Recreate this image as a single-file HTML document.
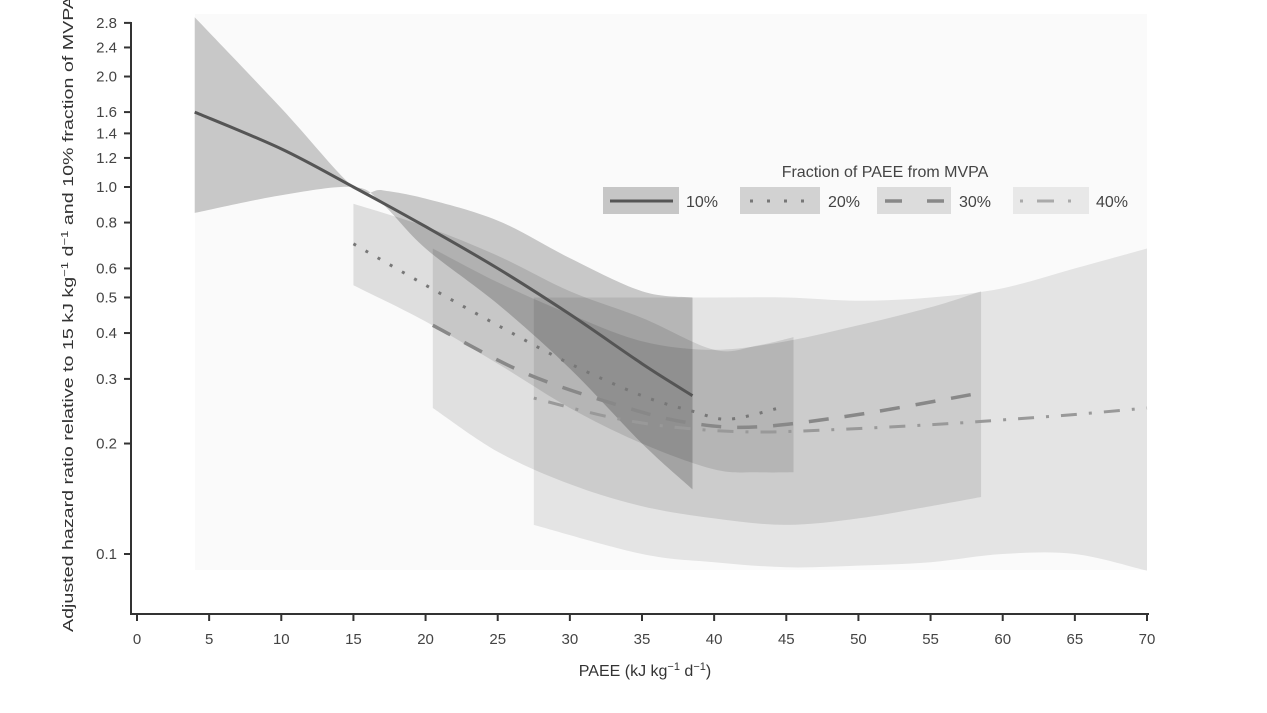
<!DOCTYPE html>
<html><head><meta charset="utf-8"><style>
body{margin:0;background:#fff;}
svg{display:block;font-family:"Liberation Sans",Arial,sans-serif;}
</style></head><body>
<svg id="chart" width="1267" height="713" viewBox="0 0 1267 713" xmlns="http://www.w3.org/2000/svg">
<rect x="195" y="14" width="952" height="556" fill="#fafafa"/>
<g id="bands"></g>
<g id="lines"></g>
<g id="axes"></g>
<text transform="translate(73,632) rotate(-90)" text-anchor="start" font-size="15" fill="#333" textLength="636" lengthAdjust="spacingAndGlyphs">Adjusted hazard ratio relative to 15 kJ kg<tspan dy="-5" font-size="10">−1</tspan><tspan dy="5"> d</tspan><tspan dy="-5" font-size="10">−1</tspan><tspan dy="5"> and 10% fraction of MVPA</tspan></text>
<text x="645" y="676" text-anchor="middle" font-size="16" fill="#333">PAEE (kJ kg<tspan dy="-6" font-size="11">−1</tspan><tspan dy="6"> d</tspan><tspan dy="-6" font-size="11">−1</tspan><tspan dy="6">)</tspan></text>
<g>
<text x="885" y="177" text-anchor="middle" font-size="16" fill="#444">Fraction of PAEE from MVPA</text>
<g><rect x="603" y="187" width="76" height="27" fill="#c6c6c6"/><line x1="610" y1="201" x2="673" y2="201" stroke="#555" stroke-width="3"/><text x="686" y="207" font-size="16" fill="#444">10%</text></g>
<g><rect x="740" y="187" width="80" height="27" fill="#d2d2d2"/><line x1="750" y1="201" x2="815" y2="201" stroke="#777" stroke-width="3" stroke-dasharray="3,14"/><text x="828" y="207" font-size="16" fill="#444">20%</text></g>
<g><rect x="877" y="187" width="74" height="27" fill="#dcdcdc"/><line x1="885" y1="201" x2="945" y2="201" stroke="#888" stroke-width="3.5" stroke-dasharray="17,25"/><text x="959" y="207" font-size="16" fill="#444">30%</text></g>
<g><rect x="1013" y="187" width="76" height="27" fill="#e8e8e8"/><line x1="1020" y1="201" x2="1085" y2="201" stroke="#aaa" stroke-width="3" stroke-dasharray="3,14,17,14"/><text x="1096" y="207" font-size="16" fill="#444">40%</text></g>
</g>
</svg>
<script>
const xTicks=[0,5,10,15,20,25,30,35,40,45,50,55,60,65,70];
const yTicks=[0.1,0.2,0.3,0.4,0.5,0.6,0.8,1.0,1.2,1.4,1.6,2.0,2.4,2.8];
const yTickLabels=["0.1","0.2","0.3","0.4","0.5","0.6","0.8","1.0","1.2","1.4","1.6","2.0","2.4","2.8"];
// series 10%
const s10x=[4,10,15,20,25,30,35,38.5];
const s10y=[1.6,1.27,1.0,0.78,0.6,0.45,0.33,0.27];
const b10x=[4,10,15,17,20,25,30,35,38.5];
const b10up=[2.9,1.64,1.0,0.98,0.93,0.81,0.64,0.52,0.5];
const b10lo=[0.85,0.95,1.0,0.9,0.68,0.48,0.32,0.2,0.15];
// series 20%
const s20x=[15,20,25,30,35,38.5,41,44.5];
const s20y=[0.70,0.54,0.42,0.33,0.27,0.245,0.233,0.25];
const b20x=[15,20,25,30,35,40,43,45.5];
const b20up=[0.9,0.78,0.65,0.52,0.44,0.36,0.37,0.39];
const b20lo=[0.54,0.43,0.33,0.25,0.2,0.17,0.167,0.167];
// series 30%
const s30x=[20.5,27,34,38.5,43,50,58.5];
const s30y=[0.42,0.31,0.25,0.227,0.222,0.24,0.275];
const b30x=[20.5,25,30,35,40,45,50,55,58.5];
const b30up=[0.68,0.55,0.45,0.38,0.36,0.38,0.42,0.47,0.52];
const b30lo=[0.25,0.19,0.155,0.135,0.125,0.12,0.125,0.135,0.143];
// series 40%
const s40x=[27.5,33,38,43,48,55,60,65,70];
const s40y=[0.266,0.235,0.22,0.215,0.218,0.225,0.232,0.24,0.25];
const b40x=[27.5,35,40,45,50,55,60,65,70];
const b40up=[0.5,0.5,0.5,0.5,0.49,0.5,0.53,0.6,0.68];
const b40lo=[0.12,0.1,0.095,0.092,0.093,0.095,0.1,0.1,0.09];

const NS="http://www.w3.org/2000/svg";
function X(v){return 137+v*(1010/70);}
function Y(v){return 554-367*(1+Math.log10(v));}
function pts(xs,ys){return xs.map((x,i)=>[X(x),Y(ys[i])]);}
function cr(p){let d="";for(let i=0;i<p.length-1;i++){const p0=p[i-1]||p[i],p1=p[i],p2=p[i+1],p3=p[i+2]||p[i+1];
const c1=[p1[0]+(p2[0]-p0[0])/6,p1[1]+(p2[1]-p0[1])/6],c2=[p2[0]-(p3[0]-p1[0])/6,p2[1]-(p3[1]-p1[1])/6];
d+=" C"+c1[0].toFixed(1)+","+c1[1].toFixed(1)+" "+c2[0].toFixed(1)+","+c2[1].toFixed(1)+" "+p2[0].toFixed(1)+","+p2[1].toFixed(1);}return d;}
function mk(tag,attrs,parent){const e=document.createElementNS(NS,tag);for(const k in attrs)e.setAttribute(k,attrs[k]);parent.appendChild(e);return e;}
const bands=document.getElementById('bands'),lines=document.getElementById('lines'),axes=document.getElementById('axes');
function band(xs,up,lo,op,name){const u=pts(xs,up),l=pts(xs,lo).reverse();
const d="M"+u[0][0]+","+u[0][1]+cr(u)+" L"+l[0][0]+","+l[0][1]+cr(l)+" Z";
const e=mk('path',{d:d,fill:'#000','fill-opacity':op},bands);

}
band(b40x,b40up,b40lo,0.085,'band-40');
band(b30x,b30up,b30lo,0.1,'band-30');
band(b20x,b20up,b20lo,0.11,'band-20');
band(b10x,b10up,b10lo,0.2,'band-10');
function line(xs,ys,stroke,w,dash,name){const p=pts(xs,ys);
const e=mk('path',{d:"M"+p[0][0]+","+p[0][1]+cr(p),fill:'none',stroke:stroke,'stroke-width':w,'stroke-dasharray':dash},lines);

}
line(s40x,s40y,'#999',3,'3,12,16,12','line-40');
line(s30x,s30y,'#888',3.5,'20,16','line-30');
line(s20x,s20y,'#777',3,'3,11','line-20');
line(s10x,s10y,'#555',3,'none','line-10');
mk('line',{x1:131,y1:22,x2:131,y2:615,stroke:'#333','stroke-width':2},axes);
mk('line',{x1:130,y1:614,x2:1149,y2:614,stroke:'#333','stroke-width':2},axes);
xTicks.forEach(t=>{const x=X(t);
const tk=mk('line',{x1:x,y1:614,x2:x,y2:621,stroke:'#333','stroke-width':2},axes);


const tx=mk('text',{x:x,y:644,'text-anchor':'middle','font-size':15,fill:'#444'},axes);tx.textContent=t;

});
yTicks.forEach((t,i)=>{const y=Y(t);
const tk=mk('line',{x1:124,y1:y,x2:131,y2:y,stroke:'#333','stroke-width':2},axes);


const tx=mk('text',{x:117,y:y+5,'text-anchor':'end','font-size':15,fill:'#444'},axes);tx.textContent=yTickLabels[i];

});
</script>
</body></html>
